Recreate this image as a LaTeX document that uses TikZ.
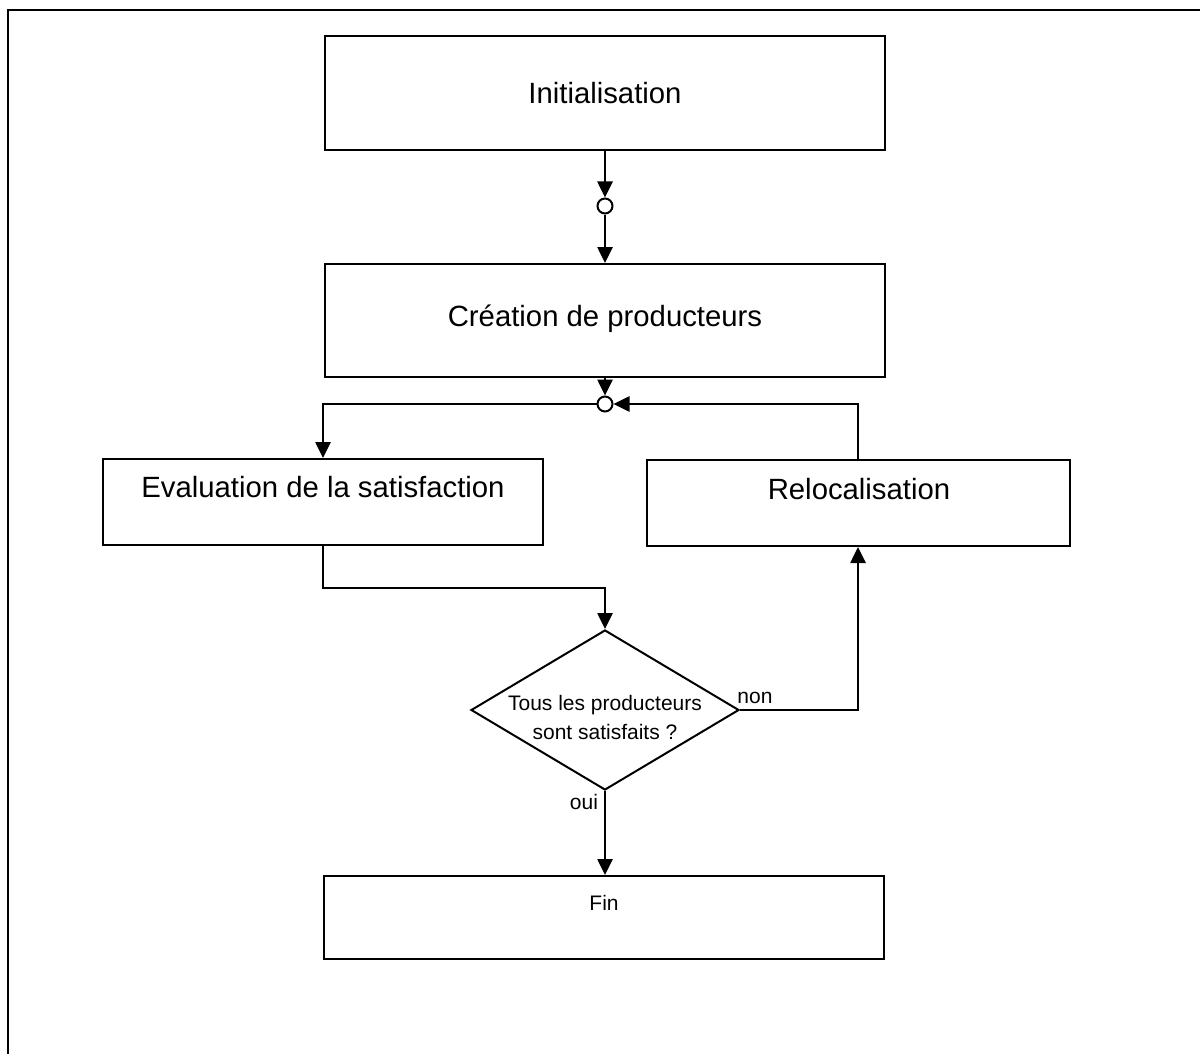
\documentclass[tikz,border=0pt]{standalone}
\usepackage{fontspec}
\setmainfont{Liberation Sans}
\usetikzlibrary{arrows.meta,shapes.geometric}
\begin{document}
\begin{tikzpicture}[x=1pt,y=-1pt,
  box/.style={draw,line width=2pt,inner sep=0pt,minimum width=#1},
  big/.style={font=\fontsize{29.3}{34}\selectfont,inner sep=0pt},
  small/.style={font=\fontsize{21}{29}\selectfont,inner sep=0pt,align=center},
  junc/.style={draw,circle,line width=2pt,fill=white,minimum size=15pt,inner sep=0pt},
  conn/.style={line width=2.6pt},
  arr/.style={conn,-{Triangle[width=15pt,length=16pt]}}]
\useasboundingbox (0,0) rectangle (1200,1054);
% frame
\draw[line width=2.5pt] (8,1054) -- (8,10) -- (1200,10);
% boxes
\node[box=560,minimum height=114] (init) at (605,93) {};
\node[box=560,minimum height=113] (crea) at (605,320.5) {};
\node[box=440,minimum height=86] (eval) at (323,502) {};
\node[box=423,minimum height=86] (reloc) at (858,503) {};
\node[box=560,minimum height=83] (fin) at (604,917.5) {};
\node[draw,diamond,line width=2pt,inner sep=0pt,minimum width=268,minimum height=160,aspect=1.675] (dia) at (605,710) {};
\node[junc] (c1) at (605,206) {};
\node[junc] (c2) at (605,404) {};
\coordinate (bend) at (0,588);
% texts
\node[big] (tinit) at (605,93) {Initialisation};
\node[big] (tcrea) at (605,319) {Création de producteurs};
\node[big] (teval) at (323,487) {Evaluation de la satisfaction};
\node[big] (treloc) at (859,489) {Relocalisation};
\node[small] (tfin) at (604,903) {Fin};
\node[small] (tdia) at (605,717) {Tous les producteurs\\sont satisfaits ?};
\node[small] (tnon) at (755,698) {non};
\node[small] (toui) at (584,802) {oui};
% connectors
\draw[arr] (init.south) -- (c1.north);
\draw[arr] (c1.south) -- (crea.north);
\draw[arr] (crea.south) -- (c2.north);
\draw[arr] (c2.west) -| (eval.north);
\draw[arr] (reloc.north) |- (c2.east);
\draw[arr] (eval.south) -- (eval.south |- bend) -| (dia.north);
\draw[arr] (dia.east) -| (reloc.south);
\draw[arr] (dia.south) -- (dia.south |- fin.north);
\end{tikzpicture}
\end{document}
